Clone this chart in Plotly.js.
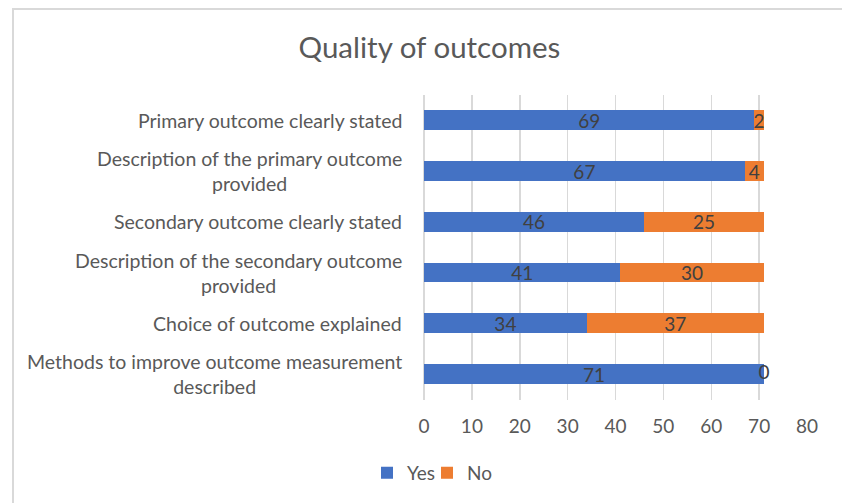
<!DOCTYPE html>
<html>
<head>
<meta charset="utf-8">
<script src="https://cdn.plot.ly/plotly-3.0.1.min.js"></script>
<style>
  html, body { margin: 0; padding: 0; background: #ffffff; overflow: hidden; }
  #chart { width: 842px; height: 503px; position: absolute; left: 0; top: 0; }
  #frame { position: absolute; left: 12px; top: 8px; width: 900px; height: 600px;
           border-left: 2px solid #d9d9d9; border-top: 2px solid #d9d9d9; pointer-events: none; }
</style>
</head>
<body>
<div id="chart"></div>
<div id="frame"></div>
<script>
const categories = [
  "Primary outcome clearly stated",
  "Description of the primary outcome<br>provided",
  "Secondary outcome clearly stated",
  "Description of the secondary outcome<br>provided",
  "Choice of outcome explained",
  "Methods to improve outcome measurement<br>described"
];
const yesValues = [69, 67, 46, 41, 34, 71];
const noValues  = [2, 4, 25, 30, 37, 0];
const xTickValues = [0, 10, 20, 30, 40, 50, 60, 70, 80];

const FONT = "Lato, 'Open Sans', sans-serif";
const TXT = "#595959";
const LBL = { family: FONT, size: 19, color: '#404040' };

// labels for zero-width segments (library drops inside text for empty bars)
const zeroIdx = noValues.map((v, i) => v === 0 ? i : -1).filter(i => i >= 0);

const traces = [
  { type: 'bar', orientation: 'h', name: 'Yes', y: categories, x: yesValues, legend: 'legend',
    marker: { color: '#4472C4' }, hoverinfo: 'x+name',
    text: yesValues.map(String), textposition: 'inside', insidetextanchor: 'middle',
    textangle: 0, constraintext: 'none', insidetextfont: LBL, textfont: LBL },
  { type: 'bar', orientation: 'h', name: 'No', y: categories, x: noValues, legend: 'legend2',
    marker: { color: '#ED7D31' }, hoverinfo: 'x+name',
    text: noValues.map(String), textposition: 'inside', insidetextanchor: 'middle',
    textangle: 0, constraintext: 'none', insidetextfont: LBL, textfont: LBL },
  { type: 'scatter', mode: 'text', showlegend: false, hoverinfo: 'skip',
    y: zeroIdx.map(i => categories[i]), x: zeroIdx.map(i => yesValues[i] + noValues[i]),
    text: zeroIdx.map(i => String(noValues[i])),
    textposition: 'middle center', textfont: LBL }
];

const annotations = categories.map(c => ({
  xref: 'paper', yref: 'y', x: 0, y: c, xanchor: 'right', yanchor: 'middle',
  xshift: -20, text: c, align: 'center', showarrow: false,
  font: { family: FONT, size: 19.5, color: TXT }
}));

const legendBase = { orientation: 'h', xref: 'container', yref: 'container', y: 0.06,
  xanchor: 'left', yanchor: 'middle', font: { family: FONT, size: 19, color: TXT },
  itemwidth: 30, bgcolor: 'rgba(0,0,0,0)' };

const layout = {
  width: 842, height: 503,
  paper_bgcolor: '#ffffff', plot_bgcolor: '#ffffff',
  margin: { l: 424, r: 35, t: 95, b: 103 },
  title: { text: 'Quality of outcomes', x: 0.51, xref: 'container', y: 0.905, yref: 'container',
           xanchor: 'center', yanchor: 'middle',
           font: { family: FONT, size: 29.5, color: TXT } },
  barmode: 'stack', bargap: 0.61,
  xaxis: { range: [0, 80], tickvals: xTickValues, ticktext: xTickValues.map(String),
           showgrid: true, gridcolor: '#d9d9d9', gridwidth: 1.5,
           zeroline: true, zerolinecolor: '#d9d9d9', zerolinewidth: 1.5,
           showline: false, ticks: '', ticklabelstandoff: 13,
           tickfont: { family: FONT, size: 19, color: TXT }, fixedrange: true },
  yaxis: { type: 'category', autorange: 'reversed', showticklabels: false,
           showgrid: false, zeroline: false, showline: false, ticks: '', fixedrange: true },
  showlegend: true,
  legend: Object.assign({}, legendBase, { x: 367 / 842 }),
  legend2: Object.assign({}, legendBase, { x: 427 / 842 }),
  annotations: annotations
};

Plotly.newPlot('chart', traces, layout, { displayModeBar: false, staticPlot: true });
</script>
</body>
</html>
